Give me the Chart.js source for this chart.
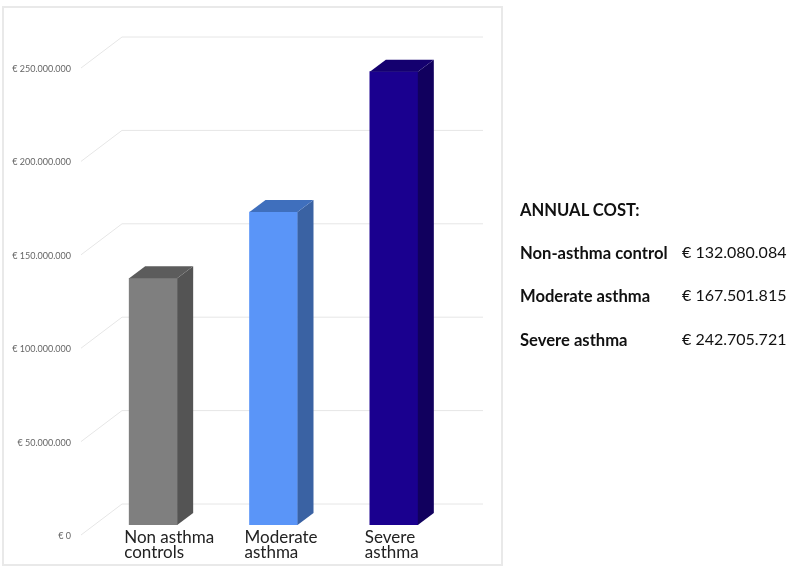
<!DOCTYPE html>
<html>
<head>
<meta charset="utf-8">
<script src="https://cdn.jsdelivr.net/npm/chart.js@4/dist/chart.umd.min.js"></script>
<style>
    html, body { margin: 0; padding: 0; background: #ffffff; }
    #wrap { position: relative; width: 787px; height: 570px; overflow: hidden; }
    #frame { position: absolute; left: 2px; top: 6px; width: 497px; height: 556px; border: 2px solid #e9e9e9; }
    #canvas { position: absolute; left: 0; top: 0; }
    .cost { position: absolute; font-family: Lato, sans-serif; line-height: 20px; color: #111111; white-space: nowrap; }
    .cost.name { left: 520px; margin-top: 1px; font-size: 16.6px; font-weight: bold; }
    .cost.value { left: 682px; font-size: 16px; }
</style>
</head>
<body>
<div id="wrap">
    <div id="frame"></div>
    <canvas id="canvas" width="787" height="570"></canvas>
</div>
<script>
const categories = [['Non asthma', 'controls'], ['Moderate', 'asthma'], ['Severe', 'asthma']];
const annualCost = [132080084, 167501815, 242705721];
const frontColors = ['#7f7f7f', '#5a95f8', '#1a008f'];
const topColors = ['#5c5c5c', '#3f6fbd', '#14006f'];
const sideColors = ['#545454', '#3a62a3', '#11005e'];

const summaryTitle = 'ANNUAL COST:';
const summaryNames = ['Non-asthma control', 'Moderate asthma', 'Severe asthma'];
const summaryValues = ['€ 132.080.084', '€ 167.501.815', '€ 242.705.721'];
const summaryRows = [209, 252, 295, 339];

function addText(className, text, centerY) {
    const el = document.createElement('div');
    el.className = 'cost ' + className;
    el.style.top = (centerY - 10) + 'px';
    el.textContent = text;
    document.getElementById('wrap').appendChild(el);
}

addText('name', summaryTitle, summaryRows[0]);
summaryNames.forEach((name, i) => addText('name', name, summaryRows[i + 1]));
summaryValues.forEach((value, i) => addText('value', value, summaryRows[i + 1]));

function formatEuro(value) {
    return '€ ' + String(value).replace(/\B(?=(\d{3})+(?!\d))/g, '.');
}

// fake 3D: wall and floor lines behind the bars, then side and top faces on each bar
const depthX = 16;
const depthY = 12;

const perspective = {
    id: 'perspective',
    beforeDatasetsDraw(chart) {
        const ctx = chart.ctx;
        const area = chart.chartArea;
        ctx.save();
        ctx.strokeStyle = '#e6e6e6';
        ctx.lineWidth = 1;
        chart.scales.y.ticks.forEach(tick => {
            const y = chart.scales.y.getPixelForValue(tick.value);
            ctx.beginPath();
            ctx.moveTo(area.left - 12, y + 10);
            ctx.lineTo(area.left + 29, y - 21);
            ctx.lineTo(area.right + 29, y - 21);
            ctx.stroke();
        });
        ctx.restore();
    },
    afterDatasetsDraw(chart) {
        const ctx = chart.ctx;
        ctx.save();
        chart.getDatasetMeta(0).data.forEach((bar, i) => {
            const left = bar.x - bar.width / 2;
            const right = bar.x + bar.width / 2;

            ctx.fillStyle = sideColors[i];
            ctx.beginPath();
            ctx.moveTo(right, bar.y);
            ctx.lineTo(right + depthX, bar.y - depthY);
            ctx.lineTo(right + depthX, bar.base - depthY);
            ctx.lineTo(right, bar.base);
            ctx.closePath();
            ctx.fill();

            ctx.fillStyle = topColors[i];
            ctx.beginPath();
            ctx.moveTo(left, bar.y);
            ctx.lineTo(left + depthX, bar.y - depthY);
            ctx.lineTo(right + depthX, bar.y - depthY);
            ctx.lineTo(right, bar.y);
            ctx.closePath();
            ctx.fill();
        });
        ctx.restore();
    }
};

new Chart(document.getElementById('canvas'), {
    type: 'bar',
    plugins: [perspective],
    data: {
        labels: categories,
        datasets: [{
            data: annualCost,
            backgroundColor: frontColors,
            barThickness: 48
        }]
    },
    options: {
        responsive: false,
        animation: false,
        layout: { padding: { top: 58, right: 333, left: 0, bottom: 0 } },
        plugins: {
            legend: { display: false },
            title: { display: false },
            tooltip: { enabled: false }
        },
        scales: {
            x: {
                grid: { display: false, drawTicks: false },
                border: { display: false },
                afterFit: scale => { scale.height = 45; },
                ticks: {
                    align: 'start',
                    labelOffset: -29,
                    padding: 5,
                    maxRotation: 0,
                    autoSkip: false,
                    color: '#222222',
                    font: { family: 'Lato', size: 17, lineHeight: 0.9 }
                }
            },
            y: {
                min: 0,
                max: 250000000,
                grid: { display: false, drawTicks: false },
                border: { display: false },
                afterFit: scale => { scale.width = 93; },
                ticks: {
                    stepSize: 50000000,
                    labelOffset: 11,
                    padding: 22,
                    color: '#666666',
                    font: { family: 'Lato', size: 9 },
                    callback: value => formatEuro(value)
                }
            }
        }
    }
});
</script>
</body>
</html>
